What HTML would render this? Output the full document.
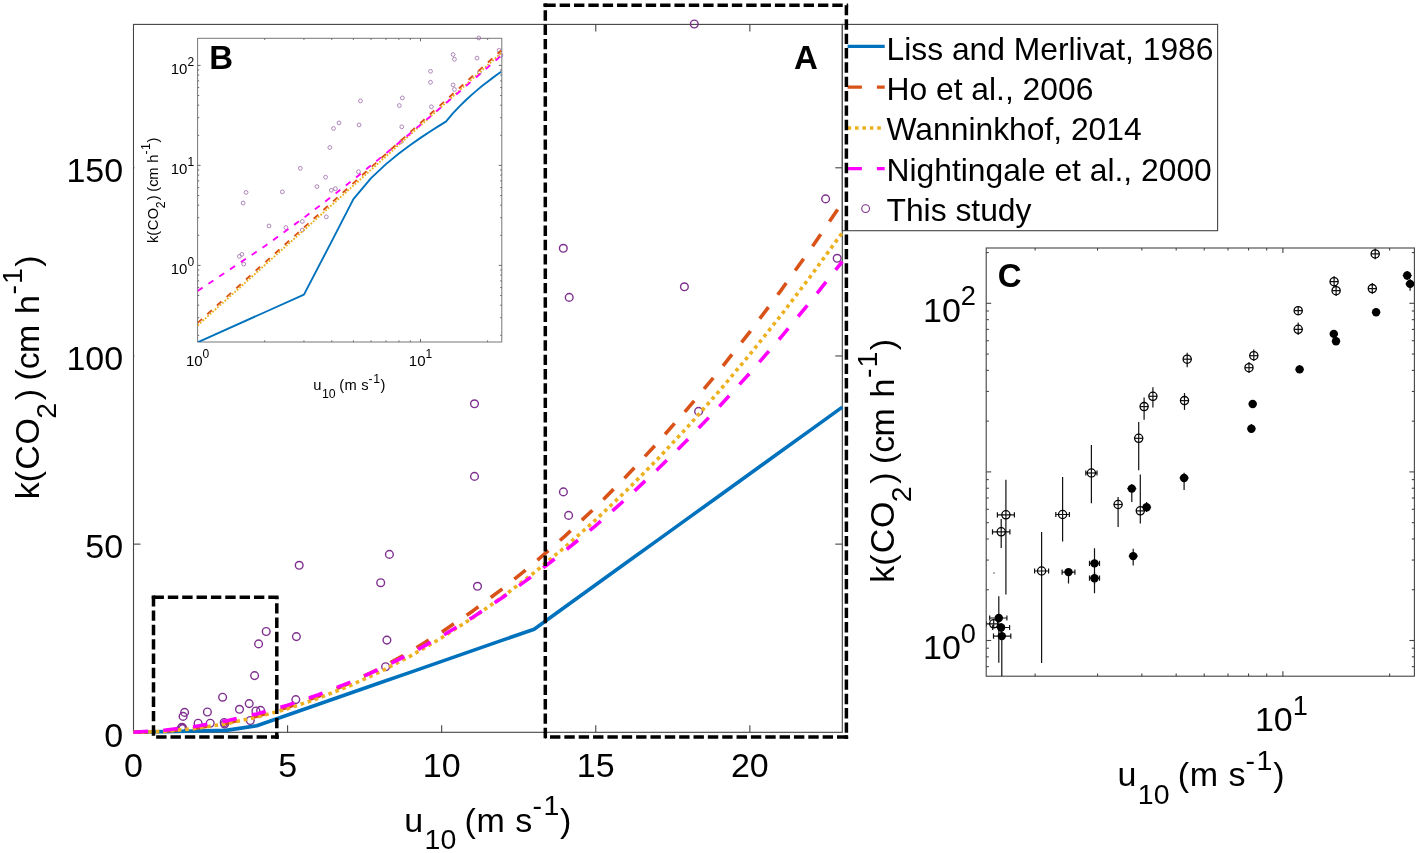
<!DOCTYPE html><html><head><meta charset="utf-8"><style>html,body{margin:0;padding:0;background:#fff;width:1417px;height:853px;overflow:hidden;position:relative}</style></head><body><svg width="1417" height="853" viewBox="0 0 1417 853" style="position:absolute;left:0;top:0;will-change:transform">
<g font-family='"Liberation Sans", sans-serif'>
<rect x="0" y="0" width="1417" height="853" fill="#fff"/>
<rect x="133.5" y="24.4" width="708.8" height="707.9" fill="none" stroke="#444" stroke-width="1.1"/>
<line x1="287.59" y1="732.3" x2="287.59" y2="725.3" stroke="#444" stroke-width="1.1" stroke-linecap="butt"/>
<line x1="287.59" y1="24.4" x2="287.59" y2="31.4" stroke="#444" stroke-width="1.1" stroke-linecap="butt"/>
<line x1="441.67" y1="732.3" x2="441.67" y2="725.3" stroke="#444" stroke-width="1.1" stroke-linecap="butt"/>
<line x1="441.67" y1="24.4" x2="441.67" y2="31.4" stroke="#444" stroke-width="1.1" stroke-linecap="butt"/>
<line x1="595.76" y1="732.3" x2="595.76" y2="725.3" stroke="#444" stroke-width="1.1" stroke-linecap="butt"/>
<line x1="595.76" y1="24.4" x2="595.76" y2="31.4" stroke="#444" stroke-width="1.1" stroke-linecap="butt"/>
<line x1="749.85" y1="732.3" x2="749.85" y2="725.3" stroke="#444" stroke-width="1.1" stroke-linecap="butt"/>
<line x1="749.85" y1="24.4" x2="749.85" y2="31.4" stroke="#444" stroke-width="1.1" stroke-linecap="butt"/>
<line x1="133.5" y1="544.13" x2="140.5" y2="544.13" stroke="#444" stroke-width="1.1" stroke-linecap="butt"/>
<line x1="842.3" y1="544.13" x2="835.3" y2="544.13" stroke="#444" stroke-width="1.1" stroke-linecap="butt"/>
<line x1="133.5" y1="355.96" x2="140.5" y2="355.96" stroke="#444" stroke-width="1.1" stroke-linecap="butt"/>
<line x1="842.3" y1="355.96" x2="835.3" y2="355.96" stroke="#444" stroke-width="1.1" stroke-linecap="butt"/>
<line x1="133.5" y1="167.79" x2="140.5" y2="167.79" stroke="#444" stroke-width="1.1" stroke-linecap="butt"/>
<line x1="842.3" y1="167.79" x2="835.3" y2="167.79" stroke="#444" stroke-width="1.1" stroke-linecap="butt"/>
<text x="133.5" y="777" font-size="34" text-anchor="middle" font-weight="normal" fill="#000" >0</text>
<text x="287.59" y="777" font-size="34" text-anchor="middle" font-weight="normal" fill="#000" >5</text>
<text x="441.67" y="777" font-size="34" text-anchor="middle" font-weight="normal" fill="#000" >10</text>
<text x="595.76" y="777" font-size="34" text-anchor="middle" font-weight="normal" fill="#000" >15</text>
<text x="749.85" y="777" font-size="34" text-anchor="middle" font-weight="normal" fill="#000" >20</text>
<text x="123.2" y="746.5" font-size="34" text-anchor="end" font-weight="normal" fill="#000" >0</text>
<text x="123.2" y="558.33" font-size="34" text-anchor="end" font-weight="normal" fill="#000" >50</text>
<text x="123.2" y="370.16" font-size="34" text-anchor="end" font-weight="normal" fill="#000" >100</text>
<text x="123.2" y="181.99" font-size="34" text-anchor="end" font-weight="normal" fill="#000" >150</text>
<circle cx="266.2" cy="631.5" r="3.85" fill="none" stroke="#7E2F8E" stroke-width="1.4"/>
<circle cx="258.6" cy="643.9" r="3.85" fill="none" stroke="#7E2F8E" stroke-width="1.4"/>
<circle cx="296.4" cy="636.6" r="3.85" fill="none" stroke="#7E2F8E" stroke-width="1.4"/>
<circle cx="254.6" cy="675.6" r="3.85" fill="none" stroke="#7E2F8E" stroke-width="1.4"/>
<circle cx="222.6" cy="697.2" r="3.85" fill="none" stroke="#7E2F8E" stroke-width="1.4"/>
<circle cx="249.2" cy="703.6" r="3.85" fill="none" stroke="#7E2F8E" stroke-width="1.4"/>
<circle cx="239.5" cy="709.3" r="3.85" fill="none" stroke="#7E2F8E" stroke-width="1.4"/>
<circle cx="207.4" cy="712" r="3.85" fill="none" stroke="#7E2F8E" stroke-width="1.4"/>
<circle cx="184.6" cy="712.4" r="3.85" fill="none" stroke="#7E2F8E" stroke-width="1.4"/>
<circle cx="183.1" cy="716.4" r="3.85" fill="none" stroke="#7E2F8E" stroke-width="1.4"/>
<circle cx="255.9" cy="711" r="3.85" fill="none" stroke="#7E2F8E" stroke-width="1.4"/>
<circle cx="260.6" cy="710.4" r="3.85" fill="none" stroke="#7E2F8E" stroke-width="1.4"/>
<circle cx="295.8" cy="699.6" r="3.85" fill="none" stroke="#7E2F8E" stroke-width="1.4"/>
<circle cx="198.1" cy="723.2" r="3.85" fill="none" stroke="#7E2F8E" stroke-width="1.4"/>
<circle cx="210.2" cy="723.2" r="3.85" fill="none" stroke="#7E2F8E" stroke-width="1.4"/>
<circle cx="224.2" cy="722.5" r="3.85" fill="none" stroke="#7E2F8E" stroke-width="1.4"/>
<circle cx="224.6" cy="724.1" r="3.85" fill="none" stroke="#7E2F8E" stroke-width="1.4"/>
<circle cx="250.3" cy="720.5" r="3.85" fill="none" stroke="#7E2F8E" stroke-width="1.4"/>
<circle cx="181.5" cy="727.9" r="3.85" fill="none" stroke="#7E2F8E" stroke-width="1.4"/>
<circle cx="182.8" cy="728.6" r="3.85" fill="none" stroke="#7E2F8E" stroke-width="1.4"/>
<circle cx="182.1" cy="727.2" r="3.85" fill="none" stroke="#7E2F8E" stroke-width="1.4"/>
<circle cx="299.2" cy="565.3" r="3.85" fill="none" stroke="#7E2F8E" stroke-width="1.4"/>
<circle cx="389.4" cy="554.4" r="3.85" fill="none" stroke="#7E2F8E" stroke-width="1.4"/>
<circle cx="380.7" cy="582.7" r="3.85" fill="none" stroke="#7E2F8E" stroke-width="1.4"/>
<circle cx="477.5" cy="586.3" r="3.85" fill="none" stroke="#7E2F8E" stroke-width="1.4"/>
<circle cx="386.9" cy="640.1" r="3.85" fill="none" stroke="#7E2F8E" stroke-width="1.4"/>
<circle cx="385.6" cy="666.7" r="3.85" fill="none" stroke="#7E2F8E" stroke-width="1.4"/>
<circle cx="474.5" cy="403.8" r="3.85" fill="none" stroke="#7E2F8E" stroke-width="1.4"/>
<circle cx="474.5" cy="476.4" r="3.85" fill="none" stroke="#7E2F8E" stroke-width="1.4"/>
<circle cx="563.3" cy="248.3" r="3.85" fill="none" stroke="#7E2F8E" stroke-width="1.4"/>
<circle cx="569.2" cy="297.4" r="3.85" fill="none" stroke="#7E2F8E" stroke-width="1.4"/>
<circle cx="684.4" cy="286.8" r="3.85" fill="none" stroke="#7E2F8E" stroke-width="1.4"/>
<circle cx="563.4" cy="491.9" r="3.85" fill="none" stroke="#7E2F8E" stroke-width="1.4"/>
<circle cx="568.6" cy="515.4" r="3.85" fill="none" stroke="#7E2F8E" stroke-width="1.4"/>
<circle cx="698.6" cy="411.4" r="3.85" fill="none" stroke="#7E2F8E" stroke-width="1.4"/>
<circle cx="694.3" cy="24" r="3.85" fill="none" stroke="#7E2F8E" stroke-width="1.4"/>
<circle cx="825.6" cy="198.9" r="3.85" fill="none" stroke="#7E2F8E" stroke-width="1.4"/>
<circle cx="837.2" cy="258.3" r="3.85" fill="none" stroke="#7E2F8E" stroke-width="1.4"/>
<path d="M133.5,732.3 L164.32,731.66 L195.13,731.02 L225.95,730.38 L256.77,725.71 L287.59,714.99 L318.4,704.26 L349.22,693.54 L380.04,682.81 L410.86,672.09 L441.67,661.36 L472.49,650.63 L503.31,639.91 L534.13,629.18 L564.94,606.98 L595.76,584.77 L626.58,562.57 L657.4,540.37 L688.21,518.16 L719.03,495.96 L749.85,473.75 L780.67,451.55 L811.48,429.34 L842.3,407.14" fill="none" stroke="#0072BD" stroke-width="3.6" stroke-linecap="butt" stroke-linejoin="round" />
<path d="M133.5,732.3 L164.32,731.3 L195.13,728.3 L225.95,723.29 L256.77,716.28 L287.59,707.27 L318.4,696.26 L349.22,683.25 L380.04,668.23 L410.86,651.21 L441.67,632.19 L472.49,611.17 L503.31,588.15 L534.13,563.12 L564.94,536.09 L595.76,507.06 L626.58,476.03 L657.4,442.99 L688.21,407.95 L719.03,370.91 L749.85,331.87 L780.67,290.83 L811.48,247.78 L842.3,202.73" fill="none" stroke="#D95319" stroke-width="3.6" stroke-linecap="butt" stroke-linejoin="round" stroke-dasharray="14.5 15.4" />
<path d="M133.5,732.3 L164.32,731.36 L195.13,728.52 L225.95,723.8 L256.77,717.19 L287.59,708.68 L318.4,698.29 L349.22,686.01 L380.04,671.84 L410.86,655.79 L441.67,637.84 L472.49,618 L503.31,596.27 L534.13,572.66 L564.94,547.15 L595.76,519.76 L626.58,490.48 L657.4,459.31 L688.21,426.24 L719.03,391.29 L749.85,354.45 L780.67,315.72 L811.48,275.1 L842.3,232.6" fill="none" stroke="#EDB120" stroke-width="3.6" stroke-linecap="butt" stroke-linejoin="round" stroke-dasharray="3.6 3.8" />
<path d="M133.5,732.3 L164.32,730.21 L195.13,726.45 L225.95,721.02 L256.77,713.92 L287.59,705.15 L318.4,694.7 L349.22,682.59 L380.04,668.8 L410.86,653.35 L441.67,636.22 L472.49,617.42 L503.31,596.95 L534.13,574.81 L564.94,551 L595.76,525.52 L626.58,498.37 L657.4,469.54 L688.21,439.05 L719.03,406.88 L749.85,373.04 L780.67,337.54 L811.48,300.36 L842.3,261.51" fill="none" stroke="#FF00FF" stroke-width="3.6" stroke-linecap="butt" stroke-linejoin="round" stroke-dasharray="14.5 15.4" />
<text font-size="34"><tspan x="404.2" y="831.6">u</tspan><tspan x="424.6" y="849.1" font-size="28.5">10</tspan><tspan x="464.6" y="831.6">(</tspan><tspan x="476.5" y="831.6">m</tspan><tspan x="515.35" y="831.6">s</tspan><tspan x="532.4" y="814.7" font-size="28.5">-</tspan><tspan x="543.4" y="814.7" font-size="28.5">1</tspan><tspan x="560" y="831.6">)</tspan></text>
<g transform="translate(38.5,497) rotate(-90)">
<text font-size="34"><tspan x="-2.29" y="0">k(</tspan><tspan x="27.2" y="0">C</tspan><tspan x="52.6" y="0">O</tspan><tspan x="78.3" y="17.4" font-size="28.5">2</tspan><tspan x="96.7" y="0">)</tspan><tspan x="116.4" y="0">(c</tspan><tspan x="143.9" y="0">m</tspan><tspan x="183.1" y="0">h</tspan><tspan x="202.5" y="-16.7" font-size="28.5">-</tspan><tspan x="212.9" y="-16.7" font-size="28.5">1</tspan><tspan x="230.2" y="0">)</tspan></text></g>
<rect x="842.3" y="24.4" width="375.3" height="206.3" fill="#fff" stroke="#444" stroke-width="1.1"/>
<line x1="847.6" y1="46.4" x2="884.7" y2="46.4" stroke="#0072BD" stroke-width="3.4" stroke-linecap="butt"/>
<line x1="847.6" y1="87.1" x2="884.7" y2="87.1" stroke="#D95319" stroke-width="3.4" stroke-linecap="butt" stroke-dasharray="14.3 15"/>
<line x1="847.6" y1="128" x2="884.7" y2="128" stroke="#EDB120" stroke-width="3.4" stroke-linecap="butt" stroke-dasharray="3.6 3.8"/>
<line x1="847.6" y1="168.6" x2="884.7" y2="168.6" stroke="#FF00FF" stroke-width="3.4" stroke-linecap="butt" stroke-dasharray="14.3 15"/>
<circle cx="865.6" cy="208.6" r="3.9" fill="none" stroke="#7E2F8E" stroke-width="1.1"/>
<text x="886.5" y="59.5" font-size="31.8" text-anchor="start" font-weight="normal" fill="#000" >Liss and Merlivat, 1986</text>
<text x="886.5" y="99.9" font-size="31.8" text-anchor="start" font-weight="normal" fill="#000" >Ho et al., 2006</text>
<text x="886.5" y="140.2" font-size="31.8" text-anchor="start" font-weight="normal" fill="#000" >Wanninkhof, 2014</text>
<text x="886.5" y="180.6" font-size="31.8" text-anchor="start" font-weight="normal" fill="#000" >Nightingale et al., 2000</text>
<text x="886.5" y="220.9" font-size="31.8" text-anchor="start" font-weight="normal" fill="#000" >This study</text>
<text x="793.98" y="69.2" font-size="33" text-anchor="start" font-weight="bold" fill="#000" >A</text>
<rect x="134.4" y="25.0" width="386" height="374" fill="#fff"/>
<rect x="197.6" y="38.3" width="304.2" height="303.7" fill="#fff" stroke="#777" stroke-width="1"/>
<line x1="264.7" y1="342" x2="264.7" y2="340.4" stroke="#666" stroke-width="1" stroke-linecap="butt"/>
<line x1="264.7" y1="38.3" x2="264.7" y2="39.9" stroke="#666" stroke-width="1" stroke-linecap="butt"/>
<line x1="303.95" y1="342" x2="303.95" y2="340.4" stroke="#666" stroke-width="1" stroke-linecap="butt"/>
<line x1="303.95" y1="38.3" x2="303.95" y2="39.9" stroke="#666" stroke-width="1" stroke-linecap="butt"/>
<line x1="331.8" y1="342" x2="331.8" y2="340.4" stroke="#666" stroke-width="1" stroke-linecap="butt"/>
<line x1="331.8" y1="38.3" x2="331.8" y2="39.9" stroke="#666" stroke-width="1" stroke-linecap="butt"/>
<line x1="353.4" y1="342" x2="353.4" y2="340.4" stroke="#666" stroke-width="1" stroke-linecap="butt"/>
<line x1="353.4" y1="38.3" x2="353.4" y2="39.9" stroke="#666" stroke-width="1" stroke-linecap="butt"/>
<line x1="371.05" y1="342" x2="371.05" y2="340.4" stroke="#666" stroke-width="1" stroke-linecap="butt"/>
<line x1="371.05" y1="38.3" x2="371.05" y2="39.9" stroke="#666" stroke-width="1" stroke-linecap="butt"/>
<line x1="385.97" y1="342" x2="385.97" y2="340.4" stroke="#666" stroke-width="1" stroke-linecap="butt"/>
<line x1="385.97" y1="38.3" x2="385.97" y2="39.9" stroke="#666" stroke-width="1" stroke-linecap="butt"/>
<line x1="398.9" y1="342" x2="398.9" y2="340.4" stroke="#666" stroke-width="1" stroke-linecap="butt"/>
<line x1="398.9" y1="38.3" x2="398.9" y2="39.9" stroke="#666" stroke-width="1" stroke-linecap="butt"/>
<line x1="410.3" y1="342" x2="410.3" y2="340.4" stroke="#666" stroke-width="1" stroke-linecap="butt"/>
<line x1="410.3" y1="38.3" x2="410.3" y2="39.9" stroke="#666" stroke-width="1" stroke-linecap="butt"/>
<line x1="420.5" y1="342" x2="420.5" y2="339" stroke="#666" stroke-width="1" stroke-linecap="butt"/>
<line x1="420.5" y1="38.3" x2="420.5" y2="41.3" stroke="#666" stroke-width="1" stroke-linecap="butt"/>
<line x1="487.6" y1="342" x2="487.6" y2="340.4" stroke="#666" stroke-width="1" stroke-linecap="butt"/>
<line x1="487.6" y1="38.3" x2="487.6" y2="39.9" stroke="#666" stroke-width="1" stroke-linecap="butt"/>
<line x1="197.6" y1="335.3" x2="199.2" y2="335.3" stroke="#666" stroke-width="1" stroke-linecap="butt"/>
<line x1="501.8" y1="335.3" x2="500.2" y2="335.3" stroke="#666" stroke-width="1" stroke-linecap="butt"/>
<line x1="197.6" y1="317.69" x2="199.2" y2="317.69" stroke="#666" stroke-width="1" stroke-linecap="butt"/>
<line x1="501.8" y1="317.69" x2="500.2" y2="317.69" stroke="#666" stroke-width="1" stroke-linecap="butt"/>
<line x1="197.6" y1="305.19" x2="199.2" y2="305.19" stroke="#666" stroke-width="1" stroke-linecap="butt"/>
<line x1="501.8" y1="305.19" x2="500.2" y2="305.19" stroke="#666" stroke-width="1" stroke-linecap="butt"/>
<line x1="197.6" y1="295.5" x2="199.2" y2="295.5" stroke="#666" stroke-width="1" stroke-linecap="butt"/>
<line x1="501.8" y1="295.5" x2="500.2" y2="295.5" stroke="#666" stroke-width="1" stroke-linecap="butt"/>
<line x1="197.6" y1="287.58" x2="199.2" y2="287.58" stroke="#666" stroke-width="1" stroke-linecap="butt"/>
<line x1="501.8" y1="287.58" x2="500.2" y2="287.58" stroke="#666" stroke-width="1" stroke-linecap="butt"/>
<line x1="197.6" y1="280.89" x2="199.2" y2="280.89" stroke="#666" stroke-width="1" stroke-linecap="butt"/>
<line x1="501.8" y1="280.89" x2="500.2" y2="280.89" stroke="#666" stroke-width="1" stroke-linecap="butt"/>
<line x1="197.6" y1="275.09" x2="199.2" y2="275.09" stroke="#666" stroke-width="1" stroke-linecap="butt"/>
<line x1="501.8" y1="275.09" x2="500.2" y2="275.09" stroke="#666" stroke-width="1" stroke-linecap="butt"/>
<line x1="197.6" y1="269.98" x2="199.2" y2="269.98" stroke="#666" stroke-width="1" stroke-linecap="butt"/>
<line x1="501.8" y1="269.98" x2="500.2" y2="269.98" stroke="#666" stroke-width="1" stroke-linecap="butt"/>
<line x1="197.6" y1="265.4" x2="200.6" y2="265.4" stroke="#666" stroke-width="1" stroke-linecap="butt"/>
<line x1="501.8" y1="265.4" x2="498.8" y2="265.4" stroke="#666" stroke-width="1" stroke-linecap="butt"/>
<line x1="197.6" y1="235.3" x2="199.2" y2="235.3" stroke="#666" stroke-width="1" stroke-linecap="butt"/>
<line x1="501.8" y1="235.3" x2="500.2" y2="235.3" stroke="#666" stroke-width="1" stroke-linecap="butt"/>
<line x1="197.6" y1="217.69" x2="199.2" y2="217.69" stroke="#666" stroke-width="1" stroke-linecap="butt"/>
<line x1="501.8" y1="217.69" x2="500.2" y2="217.69" stroke="#666" stroke-width="1" stroke-linecap="butt"/>
<line x1="197.6" y1="205.19" x2="199.2" y2="205.19" stroke="#666" stroke-width="1" stroke-linecap="butt"/>
<line x1="501.8" y1="205.19" x2="500.2" y2="205.19" stroke="#666" stroke-width="1" stroke-linecap="butt"/>
<line x1="197.6" y1="195.5" x2="199.2" y2="195.5" stroke="#666" stroke-width="1" stroke-linecap="butt"/>
<line x1="501.8" y1="195.5" x2="500.2" y2="195.5" stroke="#666" stroke-width="1" stroke-linecap="butt"/>
<line x1="197.6" y1="187.58" x2="199.2" y2="187.58" stroke="#666" stroke-width="1" stroke-linecap="butt"/>
<line x1="501.8" y1="187.58" x2="500.2" y2="187.58" stroke="#666" stroke-width="1" stroke-linecap="butt"/>
<line x1="197.6" y1="180.89" x2="199.2" y2="180.89" stroke="#666" stroke-width="1" stroke-linecap="butt"/>
<line x1="501.8" y1="180.89" x2="500.2" y2="180.89" stroke="#666" stroke-width="1" stroke-linecap="butt"/>
<line x1="197.6" y1="175.09" x2="199.2" y2="175.09" stroke="#666" stroke-width="1" stroke-linecap="butt"/>
<line x1="501.8" y1="175.09" x2="500.2" y2="175.09" stroke="#666" stroke-width="1" stroke-linecap="butt"/>
<line x1="197.6" y1="169.98" x2="199.2" y2="169.98" stroke="#666" stroke-width="1" stroke-linecap="butt"/>
<line x1="501.8" y1="169.98" x2="500.2" y2="169.98" stroke="#666" stroke-width="1" stroke-linecap="butt"/>
<line x1="197.6" y1="165.4" x2="200.6" y2="165.4" stroke="#666" stroke-width="1" stroke-linecap="butt"/>
<line x1="501.8" y1="165.4" x2="498.8" y2="165.4" stroke="#666" stroke-width="1" stroke-linecap="butt"/>
<line x1="197.6" y1="135.3" x2="199.2" y2="135.3" stroke="#666" stroke-width="1" stroke-linecap="butt"/>
<line x1="501.8" y1="135.3" x2="500.2" y2="135.3" stroke="#666" stroke-width="1" stroke-linecap="butt"/>
<line x1="197.6" y1="117.69" x2="199.2" y2="117.69" stroke="#666" stroke-width="1" stroke-linecap="butt"/>
<line x1="501.8" y1="117.69" x2="500.2" y2="117.69" stroke="#666" stroke-width="1" stroke-linecap="butt"/>
<line x1="197.6" y1="105.19" x2="199.2" y2="105.19" stroke="#666" stroke-width="1" stroke-linecap="butt"/>
<line x1="501.8" y1="105.19" x2="500.2" y2="105.19" stroke="#666" stroke-width="1" stroke-linecap="butt"/>
<line x1="197.6" y1="95.5" x2="199.2" y2="95.5" stroke="#666" stroke-width="1" stroke-linecap="butt"/>
<line x1="501.8" y1="95.5" x2="500.2" y2="95.5" stroke="#666" stroke-width="1" stroke-linecap="butt"/>
<line x1="197.6" y1="87.58" x2="199.2" y2="87.58" stroke="#666" stroke-width="1" stroke-linecap="butt"/>
<line x1="501.8" y1="87.58" x2="500.2" y2="87.58" stroke="#666" stroke-width="1" stroke-linecap="butt"/>
<line x1="197.6" y1="80.89" x2="199.2" y2="80.89" stroke="#666" stroke-width="1" stroke-linecap="butt"/>
<line x1="501.8" y1="80.89" x2="500.2" y2="80.89" stroke="#666" stroke-width="1" stroke-linecap="butt"/>
<line x1="197.6" y1="75.09" x2="199.2" y2="75.09" stroke="#666" stroke-width="1" stroke-linecap="butt"/>
<line x1="501.8" y1="75.09" x2="500.2" y2="75.09" stroke="#666" stroke-width="1" stroke-linecap="butt"/>
<line x1="197.6" y1="69.98" x2="199.2" y2="69.98" stroke="#666" stroke-width="1" stroke-linecap="butt"/>
<line x1="501.8" y1="69.98" x2="500.2" y2="69.98" stroke="#666" stroke-width="1" stroke-linecap="butt"/>
<line x1="197.6" y1="65.4" x2="200.6" y2="65.4" stroke="#666" stroke-width="1" stroke-linecap="butt"/>
<line x1="501.8" y1="65.4" x2="498.8" y2="65.4" stroke="#666" stroke-width="1" stroke-linecap="butt"/>
<text x="185.92" y="366.4" font-size="15" text-anchor="start" font-weight="normal" fill="#000" >10</text>
<text x="202.61" y="358.4" font-size="12" text-anchor="start" font-weight="normal" fill="#000" >0</text>
<text x="408.82" y="366.4" font-size="15" text-anchor="start" font-weight="normal" fill="#000" >10</text>
<text x="425.51" y="358.4" font-size="12" text-anchor="start" font-weight="normal" fill="#000" >1</text>
<text x="170.74" y="273.5" font-size="15" text-anchor="start" font-weight="normal" fill="#000" >10</text>
<text x="187.43" y="266.2" font-size="12" text-anchor="start" font-weight="normal" fill="#000" >0</text>
<text x="170.74" y="173.5" font-size="15" text-anchor="start" font-weight="normal" fill="#000" >10</text>
<text x="187.43" y="166.2" font-size="12" text-anchor="start" font-weight="normal" fill="#000" >1</text>
<text x="170.74" y="73.5" font-size="15" text-anchor="start" font-weight="normal" fill="#000" >10</text>
<text x="187.43" y="66.2" font-size="12" text-anchor="start" font-weight="normal" fill="#000" >2</text>
<circle cx="239.4" cy="256.41" r="1.9" fill="none" stroke="#9b6aa8" stroke-width="0.8"/>
<circle cx="241.88" cy="254.34" r="1.9" fill="none" stroke="#9b6aa8" stroke-width="0.8"/>
<circle cx="243.7" cy="264.12" r="1.9" fill="none" stroke="#9b6aa8" stroke-width="0.8"/>
<circle cx="243.1" cy="203.08" r="1.9" fill="none" stroke="#9b6aa8" stroke-width="0.8"/>
<circle cx="246.08" cy="192.4" r="1.9" fill="none" stroke="#9b6aa8" stroke-width="0.8"/>
<circle cx="268.96" cy="225.95" r="1.9" fill="none" stroke="#9b6aa8" stroke-width="0.8"/>
<circle cx="282.35" cy="191.84" r="1.9" fill="none" stroke="#9b6aa8" stroke-width="0.8"/>
<circle cx="285.91" cy="227.56" r="1.9" fill="none" stroke="#9b6aa8" stroke-width="0.8"/>
<circle cx="300.33" cy="168.32" r="1.9" fill="none" stroke="#9b6aa8" stroke-width="0.8"/>
<circle cx="302.32" cy="221.47" r="1.9" fill="none" stroke="#9b6aa8" stroke-width="0.8"/>
<circle cx="302.32" cy="229.99" r="1.9" fill="none" stroke="#9b6aa8" stroke-width="0.8"/>
<circle cx="316.92" cy="186.58" r="1.9" fill="none" stroke="#9b6aa8" stroke-width="0.8"/>
<circle cx="325.55" cy="177.2" r="1.9" fill="none" stroke="#9b6aa8" stroke-width="0.8"/>
<circle cx="326.32" cy="216.83" r="1.9" fill="none" stroke="#9b6aa8" stroke-width="0.8"/>
<circle cx="329.84" cy="147.5" r="1.9" fill="none" stroke="#9b6aa8" stroke-width="0.8"/>
<circle cx="331.31" cy="190.27" r="1.9" fill="none" stroke="#9b6aa8" stroke-width="0.8"/>
<circle cx="335.36" cy="188.68" r="1.9" fill="none" stroke="#9b6aa8" stroke-width="0.8"/>
<circle cx="333.48" cy="128.48" r="1.9" fill="none" stroke="#9b6aa8" stroke-width="0.8"/>
<circle cx="339.02" cy="122.91" r="1.9" fill="none" stroke="#9b6aa8" stroke-width="0.8"/>
<circle cx="358.49" cy="171.7" r="1.9" fill="none" stroke="#9b6aa8" stroke-width="0.8"/>
<circle cx="359.04" cy="124.92" r="1.9" fill="none" stroke="#9b6aa8" stroke-width="0.8"/>
<circle cx="360.49" cy="100.86" r="1.9" fill="none" stroke="#9b6aa8" stroke-width="0.8"/>
<circle cx="399.38" cy="105.52" r="1.9" fill="none" stroke="#9b6aa8" stroke-width="0.8"/>
<circle cx="402.35" cy="97.91" r="1.9" fill="none" stroke="#9b6aa8" stroke-width="0.8"/>
<circle cx="401.76" cy="126.84" r="1.9" fill="none" stroke="#9b6aa8" stroke-width="0.8"/>
<circle cx="401.29" cy="141.6" r="1.9" fill="none" stroke="#9b6aa8" stroke-width="0.8"/>
<circle cx="430.52" cy="71.3" r="1.9" fill="none" stroke="#9b6aa8" stroke-width="0.8"/>
<circle cx="430.52" cy="82.28" r="1.9" fill="none" stroke="#9b6aa8" stroke-width="0.8"/>
<circle cx="431.38" cy="106.74" r="1.9" fill="none" stroke="#9b6aa8" stroke-width="0.8"/>
<circle cx="453.07" cy="54.51" r="1.9" fill="none" stroke="#9b6aa8" stroke-width="0.8"/>
<circle cx="454.45" cy="59.25" r="1.9" fill="none" stroke="#9b6aa8" stroke-width="0.8"/>
<circle cx="453.07" cy="84.92" r="1.9" fill="none" stroke="#9b6aa8" stroke-width="0.8"/>
<circle cx="454.45" cy="89.43" r="1.9" fill="none" stroke="#9b6aa8" stroke-width="0.8"/>
<circle cx="477.02" cy="58.1" r="1.9" fill="none" stroke="#9b6aa8" stroke-width="0.8"/>
<circle cx="478.79" cy="37.96" r="1.9" fill="none" stroke="#9b6aa8" stroke-width="0.8"/>
<circle cx="479.42" cy="72.41" r="1.9" fill="none" stroke="#9b6aa8" stroke-width="0.8"/>
<circle cx="499.22" cy="50.32" r="1.9" fill="none" stroke="#9b6aa8" stroke-width="0.8"/>
<circle cx="500.92" cy="55.43" r="1.9" fill="none" stroke="#9b6aa8" stroke-width="0.8"/>
<clipPath id="cb"><rect x="197.6" y="38.3" width="304.2" height="303.7"/></clipPath>
<g clip-path="url(#cb)">
<path d="M197.6,342.36 L264.7,312.25 L303.95,294.64 L331.8,241.1 L353.4,199.12 L371.05,178.18 L385.97,164.12 L398.9,153.51 L410.3,144.99 L420.5,137.87 L429.73,131.75 L438.15,126.39 L445.9,121.62 L453.07,113.16 L459.75,106.07 L466,99.98 L471.87,94.64 L477.4,89.89 L482.63,85.6 L487.6,81.7 L492.32,78.13 L496.83,74.82 L501.13,71.75" fill="none" stroke="#0072BD" stroke-width="1.9" stroke-linecap="butt" stroke-linejoin="round" />
<path d="M197.6,322.91 L264.7,262.71 L303.95,227.49 L331.8,202.5 L353.4,183.12 L371.05,167.28 L385.97,153.89 L398.9,142.29 L410.3,132.06 L420.5,122.91 L429.73,114.63 L438.15,107.08 L445.9,100.12 L453.07,93.69 L459.75,87.69 L466,82.09 L471.87,76.82 L477.4,71.86 L482.63,67.16 L487.6,62.71 L492.32,58.47 L496.83,54.43 L501.13,50.57" fill="none" stroke="#D95319" stroke-width="1.9" stroke-linecap="butt" stroke-linejoin="round" stroke-dasharray="6 7" />
<path d="M197.6,325.43 L264.7,265.23 L303.95,230.01 L331.8,205.02 L353.4,185.64 L371.05,169.8 L385.97,156.41 L398.9,144.81 L410.3,134.58 L420.5,125.43 L429.73,117.15 L438.15,109.6 L445.9,102.64 L453.07,96.21 L459.75,90.21 L466,84.61 L471.87,79.34 L477.4,74.38 L482.63,69.68 L487.6,65.23 L492.32,60.99 L496.83,56.95 L501.13,53.09" fill="none" stroke="#EDB120" stroke-width="1.9" stroke-linecap="butt" stroke-linejoin="round" stroke-dasharray="1.8 1.5" />
<path d="M197.6,290.97 L264.7,246.25 L303.95,217.73 L331.8,196.52 L353.4,179.58 L371.05,165.44 L385.97,153.31 L398.9,142.68 L410.3,133.22 L420.5,124.69 L429.73,116.93 L438.15,109.81 L445.9,103.23 L453.07,97.12 L459.75,91.41 L466,86.05 L471.87,81 L477.4,76.23 L482.63,71.71 L487.6,67.42 L492.32,63.32 L496.83,59.42 L501.13,55.68" fill="none" stroke="#FF00FF" stroke-width="1.9" stroke-linecap="butt" stroke-linejoin="round" stroke-dasharray="6 7" />
</g>
<text x="209.29" y="69" font-size="33" text-anchor="start" font-weight="bold" fill="#000" >B</text>
<text font-size="14.7"><tspan x="313.15" y="390.24">u</tspan><tspan x="321.97" y="397.81" font-size="12.32">10</tspan><tspan x="339.26" y="390.24">(</tspan><tspan x="344.41" y="390.24">m</tspan><tspan x="361.2" y="390.24">s</tspan><tspan x="368.58" y="382.94" font-size="12.32">-</tspan><tspan x="373.33" y="382.94" font-size="12.32">1</tspan><tspan x="380.51" y="390.24">)</tspan></text>
<g transform="translate(157.6,242) rotate(-90)">
<text font-size="14.7"><tspan x="-0.99" y="0">k(</tspan><tspan x="11.76" y="0">C</tspan><tspan x="22.74" y="0">O</tspan><tspan x="33.85" y="7.52" font-size="12.32">2</tspan><tspan x="41.81" y="0">)</tspan><tspan x="50.33" y="0">(c</tspan><tspan x="62.22" y="0">m</tspan><tspan x="79.16" y="0">h</tspan><tspan x="87.55" y="-7.22" font-size="12.32">-</tspan><tspan x="92.05" y="-7.22" font-size="12.32">1</tspan><tspan x="99.53" y="0">)</tspan></text></g>
<rect x="986.2" y="248.0" width="428.2" height="428.2" fill="none" stroke="#444" stroke-width="1.1"/>
<line x1="1035.12" y1="676.2" x2="1035.12" y2="673.6" stroke="#444" stroke-width="1.1" stroke-linecap="butt"/>
<line x1="1035.12" y1="248" x2="1035.12" y2="250.6" stroke="#444" stroke-width="1.1" stroke-linecap="butt"/>
<line x1="1097.54" y1="676.2" x2="1097.54" y2="673.6" stroke="#444" stroke-width="1.1" stroke-linecap="butt"/>
<line x1="1097.54" y1="248" x2="1097.54" y2="250.6" stroke="#444" stroke-width="1.1" stroke-linecap="butt"/>
<line x1="1141.83" y1="676.2" x2="1141.83" y2="673.6" stroke="#444" stroke-width="1.1" stroke-linecap="butt"/>
<line x1="1141.83" y1="248" x2="1141.83" y2="250.6" stroke="#444" stroke-width="1.1" stroke-linecap="butt"/>
<line x1="1176.18" y1="676.2" x2="1176.18" y2="673.6" stroke="#444" stroke-width="1.1" stroke-linecap="butt"/>
<line x1="1176.18" y1="248" x2="1176.18" y2="250.6" stroke="#444" stroke-width="1.1" stroke-linecap="butt"/>
<line x1="1204.25" y1="676.2" x2="1204.25" y2="673.6" stroke="#444" stroke-width="1.1" stroke-linecap="butt"/>
<line x1="1204.25" y1="248" x2="1204.25" y2="250.6" stroke="#444" stroke-width="1.1" stroke-linecap="butt"/>
<line x1="1227.99" y1="676.2" x2="1227.99" y2="673.6" stroke="#444" stroke-width="1.1" stroke-linecap="butt"/>
<line x1="1227.99" y1="248" x2="1227.99" y2="250.6" stroke="#444" stroke-width="1.1" stroke-linecap="butt"/>
<line x1="1248.55" y1="676.2" x2="1248.55" y2="673.6" stroke="#444" stroke-width="1.1" stroke-linecap="butt"/>
<line x1="1248.55" y1="248" x2="1248.55" y2="250.6" stroke="#444" stroke-width="1.1" stroke-linecap="butt"/>
<line x1="1266.68" y1="676.2" x2="1266.68" y2="673.6" stroke="#444" stroke-width="1.1" stroke-linecap="butt"/>
<line x1="1266.68" y1="248" x2="1266.68" y2="250.6" stroke="#444" stroke-width="1.1" stroke-linecap="butt"/>
<line x1="1282.9" y1="676.2" x2="1282.9" y2="671.2" stroke="#444" stroke-width="1.1" stroke-linecap="butt"/>
<line x1="1282.9" y1="248" x2="1282.9" y2="253" stroke="#444" stroke-width="1.1" stroke-linecap="butt"/>
<line x1="1389.62" y1="676.2" x2="1389.62" y2="673.6" stroke="#444" stroke-width="1.1" stroke-linecap="butt"/>
<line x1="1389.62" y1="248" x2="1389.62" y2="250.6" stroke="#444" stroke-width="1.1" stroke-linecap="butt"/>
<line x1="986.2" y1="666.62" x2="988.8" y2="666.62" stroke="#444" stroke-width="1.1" stroke-linecap="butt"/>
<line x1="1414.4" y1="666.62" x2="1411.8" y2="666.62" stroke="#444" stroke-width="1.1" stroke-linecap="butt"/>
<line x1="986.2" y1="656.84" x2="988.8" y2="656.84" stroke="#444" stroke-width="1.1" stroke-linecap="butt"/>
<line x1="1414.4" y1="656.84" x2="1411.8" y2="656.84" stroke="#444" stroke-width="1.1" stroke-linecap="butt"/>
<line x1="986.2" y1="648.21" x2="988.8" y2="648.21" stroke="#444" stroke-width="1.1" stroke-linecap="butt"/>
<line x1="1414.4" y1="648.21" x2="1411.8" y2="648.21" stroke="#444" stroke-width="1.1" stroke-linecap="butt"/>
<line x1="986.2" y1="640.5" x2="991.2" y2="640.5" stroke="#444" stroke-width="1.1" stroke-linecap="butt"/>
<line x1="1414.4" y1="640.5" x2="1409.4" y2="640.5" stroke="#444" stroke-width="1.1" stroke-linecap="butt"/>
<line x1="986.2" y1="589.75" x2="988.8" y2="589.75" stroke="#444" stroke-width="1.1" stroke-linecap="butt"/>
<line x1="1414.4" y1="589.75" x2="1411.8" y2="589.75" stroke="#444" stroke-width="1.1" stroke-linecap="butt"/>
<line x1="986.2" y1="560.06" x2="988.8" y2="560.06" stroke="#444" stroke-width="1.1" stroke-linecap="butt"/>
<line x1="1414.4" y1="560.06" x2="1411.8" y2="560.06" stroke="#444" stroke-width="1.1" stroke-linecap="butt"/>
<line x1="986.2" y1="538.99" x2="988.8" y2="538.99" stroke="#444" stroke-width="1.1" stroke-linecap="butt"/>
<line x1="1414.4" y1="538.99" x2="1411.8" y2="538.99" stroke="#444" stroke-width="1.1" stroke-linecap="butt"/>
<line x1="986.2" y1="522.65" x2="988.8" y2="522.65" stroke="#444" stroke-width="1.1" stroke-linecap="butt"/>
<line x1="1414.4" y1="522.65" x2="1411.8" y2="522.65" stroke="#444" stroke-width="1.1" stroke-linecap="butt"/>
<line x1="986.2" y1="509.3" x2="988.8" y2="509.3" stroke="#444" stroke-width="1.1" stroke-linecap="butt"/>
<line x1="1414.4" y1="509.3" x2="1411.8" y2="509.3" stroke="#444" stroke-width="1.1" stroke-linecap="butt"/>
<line x1="986.2" y1="498.02" x2="988.8" y2="498.02" stroke="#444" stroke-width="1.1" stroke-linecap="butt"/>
<line x1="1414.4" y1="498.02" x2="1411.8" y2="498.02" stroke="#444" stroke-width="1.1" stroke-linecap="butt"/>
<line x1="986.2" y1="488.24" x2="988.8" y2="488.24" stroke="#444" stroke-width="1.1" stroke-linecap="butt"/>
<line x1="1414.4" y1="488.24" x2="1411.8" y2="488.24" stroke="#444" stroke-width="1.1" stroke-linecap="butt"/>
<line x1="986.2" y1="479.61" x2="988.8" y2="479.61" stroke="#444" stroke-width="1.1" stroke-linecap="butt"/>
<line x1="1414.4" y1="479.61" x2="1411.8" y2="479.61" stroke="#444" stroke-width="1.1" stroke-linecap="butt"/>
<line x1="986.2" y1="471.9" x2="991.2" y2="471.9" stroke="#444" stroke-width="1.1" stroke-linecap="butt"/>
<line x1="1414.4" y1="471.9" x2="1409.4" y2="471.9" stroke="#444" stroke-width="1.1" stroke-linecap="butt"/>
<line x1="986.2" y1="421.15" x2="988.8" y2="421.15" stroke="#444" stroke-width="1.1" stroke-linecap="butt"/>
<line x1="1414.4" y1="421.15" x2="1411.8" y2="421.15" stroke="#444" stroke-width="1.1" stroke-linecap="butt"/>
<line x1="986.2" y1="391.46" x2="988.8" y2="391.46" stroke="#444" stroke-width="1.1" stroke-linecap="butt"/>
<line x1="1414.4" y1="391.46" x2="1411.8" y2="391.46" stroke="#444" stroke-width="1.1" stroke-linecap="butt"/>
<line x1="986.2" y1="370.39" x2="988.8" y2="370.39" stroke="#444" stroke-width="1.1" stroke-linecap="butt"/>
<line x1="1414.4" y1="370.39" x2="1411.8" y2="370.39" stroke="#444" stroke-width="1.1" stroke-linecap="butt"/>
<line x1="986.2" y1="354.05" x2="988.8" y2="354.05" stroke="#444" stroke-width="1.1" stroke-linecap="butt"/>
<line x1="1414.4" y1="354.05" x2="1411.8" y2="354.05" stroke="#444" stroke-width="1.1" stroke-linecap="butt"/>
<line x1="986.2" y1="340.7" x2="988.8" y2="340.7" stroke="#444" stroke-width="1.1" stroke-linecap="butt"/>
<line x1="1414.4" y1="340.7" x2="1411.8" y2="340.7" stroke="#444" stroke-width="1.1" stroke-linecap="butt"/>
<line x1="986.2" y1="329.42" x2="988.8" y2="329.42" stroke="#444" stroke-width="1.1" stroke-linecap="butt"/>
<line x1="1414.4" y1="329.42" x2="1411.8" y2="329.42" stroke="#444" stroke-width="1.1" stroke-linecap="butt"/>
<line x1="986.2" y1="319.64" x2="988.8" y2="319.64" stroke="#444" stroke-width="1.1" stroke-linecap="butt"/>
<line x1="1414.4" y1="319.64" x2="1411.8" y2="319.64" stroke="#444" stroke-width="1.1" stroke-linecap="butt"/>
<line x1="986.2" y1="311.01" x2="988.8" y2="311.01" stroke="#444" stroke-width="1.1" stroke-linecap="butt"/>
<line x1="1414.4" y1="311.01" x2="1411.8" y2="311.01" stroke="#444" stroke-width="1.1" stroke-linecap="butt"/>
<line x1="986.2" y1="303.3" x2="991.2" y2="303.3" stroke="#444" stroke-width="1.1" stroke-linecap="butt"/>
<line x1="1414.4" y1="303.3" x2="1409.4" y2="303.3" stroke="#444" stroke-width="1.1" stroke-linecap="butt"/>
<line x1="986.2" y1="252.55" x2="988.8" y2="252.55" stroke="#444" stroke-width="1.1" stroke-linecap="butt"/>
<line x1="1414.4" y1="252.55" x2="1411.8" y2="252.55" stroke="#444" stroke-width="1.1" stroke-linecap="butt"/>
<text x="923.05" y="659.4" font-size="34" text-anchor="start" font-weight="normal" fill="#000" >10</text>
<text x="960.87" y="643" font-size="27.2" text-anchor="start" font-weight="normal" fill="#000" >0</text>
<text x="923.05" y="321.6" font-size="34" text-anchor="start" font-weight="normal" fill="#000" >10</text>
<text x="960.87" y="305.1" font-size="27.2" text-anchor="start" font-weight="normal" fill="#000" >2</text>
<text x="1254.93" y="731" font-size="34" text-anchor="start" font-weight="normal" fill="#000" >10</text>
<text x="1292.75" y="715" font-size="27.2" text-anchor="start" font-weight="normal" fill="#000" >1</text>
<text x="997.85" y="287.2" font-size="33" text-anchor="start" font-weight="bold" fill="#000" >C</text>
<text font-size="34"><tspan x="1117.4" y="786.4">u</tspan><tspan x="1137.8" y="803.9" font-size="28.5">10</tspan><tspan x="1177.8" y="786.4">(</tspan><tspan x="1189.7" y="786.4">m</tspan><tspan x="1228.55" y="786.4">s</tspan><tspan x="1245.6" y="769.5" font-size="28.5">-</tspan><tspan x="1256.6" y="769.5" font-size="28.5">1</tspan><tspan x="1273.2" y="786.4">)</tspan></text>
<g transform="translate(893.8,580.5) rotate(-90)">
<text font-size="34"><tspan x="-2.29" y="0">k(</tspan><tspan x="27.2" y="0">C</tspan><tspan x="52.6" y="0">O</tspan><tspan x="78.3" y="17.4" font-size="28.5">2</tspan><tspan x="96.7" y="0">)</tspan><tspan x="116.4" y="0">(c</tspan><tspan x="143.9" y="0">m</tspan><tspan x="183.1" y="0">h</tspan><tspan x="202.5" y="-16.7" font-size="28.5">-</tspan><tspan x="212.9" y="-16.7" font-size="28.5">1</tspan><tspan x="230.2" y="0">)</tspan></text></g>
<clipPath id="cc"><rect x="986.2" y="248.0" width="428.2" height="428.2"/></clipPath>
<g clip-path="url(#cc)">
<line x1="1005.9" y1="479.7" x2="1005.9" y2="594.5" stroke="#111" stroke-width="1.2" stroke-linecap="butt"/>
<line x1="997.4" y1="514.8" x2="1014.4" y2="514.8" stroke="#111" stroke-width="1.2" stroke-linecap="butt"/>
<line x1="997.4" y1="512.2" x2="997.4" y2="517.4" stroke="#111" stroke-width="1.2" stroke-linecap="butt"/>
<line x1="1014.4" y1="512.2" x2="1014.4" y2="517.4" stroke="#111" stroke-width="1.2" stroke-linecap="butt"/>
<line x1="1001.2" y1="519" x2="1001.2" y2="548.1" stroke="#111" stroke-width="1.2" stroke-linecap="butt"/>
<line x1="992.5" y1="531.8" x2="1009.9" y2="531.8" stroke="#111" stroke-width="1.2" stroke-linecap="butt"/>
<line x1="992.5" y1="529.2" x2="992.5" y2="534.4" stroke="#111" stroke-width="1.2" stroke-linecap="butt"/>
<line x1="1009.9" y1="529.2" x2="1009.9" y2="534.4" stroke="#111" stroke-width="1.2" stroke-linecap="butt"/>
<line x1="1041.6" y1="532" x2="1041.6" y2="662.9" stroke="#111" stroke-width="1.2" stroke-linecap="butt"/>
<line x1="1034.6" y1="571" x2="1048.6" y2="571" stroke="#111" stroke-width="1.2" stroke-linecap="butt"/>
<line x1="1034.6" y1="568.4" x2="1034.6" y2="573.6" stroke="#111" stroke-width="1.2" stroke-linecap="butt"/>
<line x1="1048.6" y1="568.4" x2="1048.6" y2="573.6" stroke="#111" stroke-width="1.2" stroke-linecap="butt"/>
<line x1="1062.6" y1="477" x2="1062.6" y2="541.5" stroke="#111" stroke-width="1.2" stroke-linecap="butt"/>
<line x1="1055.8" y1="514.5" x2="1069.4" y2="514.5" stroke="#111" stroke-width="1.2" stroke-linecap="butt"/>
<line x1="1055.8" y1="511.9" x2="1055.8" y2="517.1" stroke="#111" stroke-width="1.2" stroke-linecap="butt"/>
<line x1="1069.4" y1="511.9" x2="1069.4" y2="517.1" stroke="#111" stroke-width="1.2" stroke-linecap="butt"/>
<line x1="993.7" y1="619" x2="993.7" y2="628" stroke="#111" stroke-width="1.2" stroke-linecap="butt"/>
<line x1="986.2" y1="623.8" x2="997.7" y2="623.8" stroke="#111" stroke-width="1.2" stroke-linecap="butt"/>
<line x1="986.2" y1="621.2" x2="986.2" y2="626.4" stroke="#111" stroke-width="1.2" stroke-linecap="butt"/>
<line x1="1118.1" y1="497" x2="1118.1" y2="527" stroke="#111" stroke-width="1.2" stroke-linecap="butt"/>
<line x1="1113.9" y1="504.5" x2="1122.3" y2="504.5" stroke="#111" stroke-width="1.2" stroke-linecap="butt"/>
<line x1="1091.4" y1="445" x2="1091.4" y2="503.3" stroke="#111" stroke-width="1.2" stroke-linecap="butt"/>
<line x1="1085.8" y1="473" x2="1097" y2="473" stroke="#111" stroke-width="1.2" stroke-linecap="butt"/>
<line x1="1085.8" y1="470.4" x2="1085.8" y2="475.6" stroke="#111" stroke-width="1.2" stroke-linecap="butt"/>
<line x1="1097" y1="470.4" x2="1097" y2="475.6" stroke="#111" stroke-width="1.2" stroke-linecap="butt"/>
<line x1="1187.2" y1="352.8" x2="1187.2" y2="367.2" stroke="#111" stroke-width="1.2" stroke-linecap="butt"/>
<line x1="1183.2" y1="359.2" x2="1191.2" y2="359.2" stroke="#111" stroke-width="1.2" stroke-linecap="butt"/>
<line x1="1152.9" y1="387.3" x2="1152.9" y2="407.6" stroke="#111" stroke-width="1.2" stroke-linecap="butt"/>
<line x1="1148.9" y1="396.3" x2="1156.9" y2="396.3" stroke="#111" stroke-width="1.2" stroke-linecap="butt"/>
<line x1="1144.1" y1="397.6" x2="1144.1" y2="419.8" stroke="#111" stroke-width="1.2" stroke-linecap="butt"/>
<line x1="1140.1" y1="406.6" x2="1148.1" y2="406.6" stroke="#111" stroke-width="1.2" stroke-linecap="butt"/>
<line x1="1184.5" y1="393" x2="1184.5" y2="409.9" stroke="#111" stroke-width="1.2" stroke-linecap="butt"/>
<line x1="1180.5" y1="400.6" x2="1188.5" y2="400.6" stroke="#111" stroke-width="1.2" stroke-linecap="butt"/>
<line x1="1138.7" y1="422" x2="1138.7" y2="470.2" stroke="#111" stroke-width="1.2" stroke-linecap="butt"/>
<line x1="1134.7" y1="438.3" x2="1142.7" y2="438.3" stroke="#111" stroke-width="1.2" stroke-linecap="butt"/>
<line x1="1140.3" y1="474.5" x2="1140.3" y2="523.4" stroke="#111" stroke-width="1.2" stroke-linecap="butt"/>
<line x1="1136.3" y1="510.8" x2="1144.3" y2="510.8" stroke="#111" stroke-width="1.2" stroke-linecap="butt"/>
<line x1="1375.2" y1="248.4" x2="1375.2" y2="259.2" stroke="#111" stroke-width="1.2" stroke-linecap="butt"/>
<line x1="1371.2" y1="253.9" x2="1379.2" y2="253.9" stroke="#111" stroke-width="1.2" stroke-linecap="butt"/>
<line x1="1334.1" y1="276" x2="1334.1" y2="287" stroke="#111" stroke-width="1.2" stroke-linecap="butt"/>
<line x1="1330.1" y1="281.7" x2="1338.1" y2="281.7" stroke="#111" stroke-width="1.2" stroke-linecap="butt"/>
<line x1="1336.1" y1="285" x2="1336.1" y2="296" stroke="#111" stroke-width="1.2" stroke-linecap="butt"/>
<line x1="1332.1" y1="290.7" x2="1340.1" y2="290.7" stroke="#111" stroke-width="1.2" stroke-linecap="butt"/>
<line x1="1372.3" y1="283" x2="1372.3" y2="294" stroke="#111" stroke-width="1.2" stroke-linecap="butt"/>
<line x1="1368.3" y1="288.6" x2="1376.3" y2="288.6" stroke="#111" stroke-width="1.2" stroke-linecap="butt"/>
<line x1="1298.2" y1="306.5" x2="1298.2" y2="315" stroke="#111" stroke-width="1.2" stroke-linecap="butt"/>
<line x1="1294.2" y1="310.7" x2="1302.2" y2="310.7" stroke="#111" stroke-width="1.2" stroke-linecap="butt"/>
<line x1="1298.2" y1="322.5" x2="1298.2" y2="335" stroke="#111" stroke-width="1.2" stroke-linecap="butt"/>
<line x1="1294.2" y1="329.3" x2="1302.2" y2="329.3" stroke="#111" stroke-width="1.2" stroke-linecap="butt"/>
<line x1="1253.8" y1="349.5" x2="1253.8" y2="361" stroke="#111" stroke-width="1.2" stroke-linecap="butt"/>
<line x1="1249.8" y1="355.7" x2="1257.8" y2="355.7" stroke="#111" stroke-width="1.2" stroke-linecap="butt"/>
<line x1="1249" y1="362" x2="1249" y2="373" stroke="#111" stroke-width="1.2" stroke-linecap="butt"/>
<line x1="1245" y1="367.7" x2="1253" y2="367.7" stroke="#111" stroke-width="1.2" stroke-linecap="butt"/>
<line x1="998.8" y1="596.3" x2="998.8" y2="662.8" stroke="#111" stroke-width="1.2" stroke-linecap="butt"/>
<line x1="989.7" y1="618" x2="1006.9" y2="618" stroke="#111" stroke-width="1.2" stroke-linecap="butt"/>
<line x1="989.7" y1="615.4" x2="989.7" y2="620.6" stroke="#111" stroke-width="1.2" stroke-linecap="butt"/>
<line x1="1006.9" y1="615.4" x2="1006.9" y2="620.6" stroke="#111" stroke-width="1.2" stroke-linecap="butt"/>
<line x1="1001.1" y1="623" x2="1001.1" y2="632" stroke="#111" stroke-width="1.2" stroke-linecap="butt"/>
<line x1="992.7" y1="627.5" x2="1009.6" y2="627.5" stroke="#111" stroke-width="1.2" stroke-linecap="butt"/>
<line x1="992.7" y1="624.9" x2="992.7" y2="630.1" stroke="#111" stroke-width="1.2" stroke-linecap="butt"/>
<line x1="1009.6" y1="624.9" x2="1009.6" y2="630.1" stroke="#111" stroke-width="1.2" stroke-linecap="butt"/>
<line x1="1001.8" y1="630" x2="1001.8" y2="676.2" stroke="#111" stroke-width="1.2" stroke-linecap="butt"/>
<line x1="993.5" y1="636.1" x2="1010.8" y2="636.1" stroke="#111" stroke-width="1.2" stroke-linecap="butt"/>
<line x1="993.5" y1="633.5" x2="993.5" y2="638.7" stroke="#111" stroke-width="1.2" stroke-linecap="butt"/>
<line x1="1010.8" y1="633.5" x2="1010.8" y2="638.7" stroke="#111" stroke-width="1.2" stroke-linecap="butt"/>
<line x1="1068.5" y1="569" x2="1068.5" y2="583.5" stroke="#111" stroke-width="1.2" stroke-linecap="butt"/>
<line x1="1062.1" y1="572.1" x2="1074.9" y2="572.1" stroke="#111" stroke-width="1.2" stroke-linecap="butt"/>
<line x1="1062.1" y1="569.5" x2="1062.1" y2="574.7" stroke="#111" stroke-width="1.2" stroke-linecap="butt"/>
<line x1="1074.9" y1="569.5" x2="1074.9" y2="574.7" stroke="#111" stroke-width="1.2" stroke-linecap="butt"/>
<line x1="1094.5" y1="548.2" x2="1094.5" y2="593.3" stroke="#111" stroke-width="1.2" stroke-linecap="butt"/>
<line x1="1089.5" y1="563.4" x2="1099.5" y2="563.4" stroke="#111" stroke-width="1.2" stroke-linecap="butt"/>
<line x1="1089.5" y1="560.8" x2="1089.5" y2="566" stroke="#111" stroke-width="1.2" stroke-linecap="butt"/>
<line x1="1099.5" y1="560.8" x2="1099.5" y2="566" stroke="#111" stroke-width="1.2" stroke-linecap="butt"/>
<line x1="1094.5" y1="572" x2="1094.5" y2="584" stroke="#111" stroke-width="1.2" stroke-linecap="butt"/>
<line x1="1089.5" y1="578.2" x2="1099.5" y2="578.2" stroke="#111" stroke-width="1.2" stroke-linecap="butt"/>
<line x1="1089.5" y1="575.6" x2="1089.5" y2="580.8" stroke="#111" stroke-width="1.2" stroke-linecap="butt"/>
<line x1="1099.5" y1="575.6" x2="1099.5" y2="580.8" stroke="#111" stroke-width="1.2" stroke-linecap="butt"/>
<line x1="1131.8" y1="484" x2="1131.8" y2="501.9" stroke="#111" stroke-width="1.2" stroke-linecap="butt"/>
<line x1="1127.3" y1="488.6" x2="1136.3" y2="488.6" stroke="#111" stroke-width="1.2" stroke-linecap="butt"/>
<line x1="1146.6" y1="502" x2="1146.6" y2="512" stroke="#111" stroke-width="1.2" stroke-linecap="butt"/>
<line x1="1142.1" y1="507.2" x2="1151.1" y2="507.2" stroke="#111" stroke-width="1.2" stroke-linecap="butt"/>
<line x1="1184.1" y1="472.8" x2="1184.1" y2="490" stroke="#111" stroke-width="1.2" stroke-linecap="butt"/>
<line x1="1179.6" y1="478" x2="1188.6" y2="478" stroke="#111" stroke-width="1.2" stroke-linecap="butt"/>
<line x1="1133.2" y1="548.8" x2="1133.2" y2="565.6" stroke="#111" stroke-width="1.2" stroke-linecap="butt"/>
<line x1="1128.7" y1="556.1" x2="1137.7" y2="556.1" stroke="#111" stroke-width="1.2" stroke-linecap="butt"/>
<line x1="1407.2" y1="271" x2="1407.2" y2="280" stroke="#111" stroke-width="1.2" stroke-linecap="butt"/>
<line x1="1402.7" y1="275.5" x2="1411.7" y2="275.5" stroke="#111" stroke-width="1.2" stroke-linecap="butt"/>
<line x1="1410.1" y1="279" x2="1410.1" y2="290.7" stroke="#111" stroke-width="1.2" stroke-linecap="butt"/>
<line x1="1405.6" y1="283.9" x2="1414.6" y2="283.9" stroke="#111" stroke-width="1.2" stroke-linecap="butt"/>
<line x1="1376.1" y1="308" x2="1376.1" y2="316" stroke="#111" stroke-width="1.2" stroke-linecap="butt"/>
<line x1="1372.1" y1="312.2" x2="1380.1" y2="312.2" stroke="#111" stroke-width="1.2" stroke-linecap="butt"/>
<line x1="1333.8" y1="330" x2="1333.8" y2="338" stroke="#111" stroke-width="1.2" stroke-linecap="butt"/>
<line x1="1329.8" y1="333.9" x2="1337.8" y2="333.9" stroke="#111" stroke-width="1.2" stroke-linecap="butt"/>
<line x1="1336" y1="337" x2="1336" y2="345" stroke="#111" stroke-width="1.2" stroke-linecap="butt"/>
<line x1="1332" y1="341.3" x2="1340" y2="341.3" stroke="#111" stroke-width="1.2" stroke-linecap="butt"/>
<line x1="1299.6" y1="365" x2="1299.6" y2="373" stroke="#111" stroke-width="1.2" stroke-linecap="butt"/>
<line x1="1295.6" y1="369.4" x2="1303.6" y2="369.4" stroke="#111" stroke-width="1.2" stroke-linecap="butt"/>
<line x1="1252.7" y1="400" x2="1252.7" y2="408" stroke="#111" stroke-width="1.2" stroke-linecap="butt"/>
<line x1="1248.7" y1="404" x2="1256.7" y2="404" stroke="#111" stroke-width="1.2" stroke-linecap="butt"/>
<line x1="1251.4" y1="424" x2="1251.4" y2="433" stroke="#111" stroke-width="1.2" stroke-linecap="butt"/>
<line x1="1247.4" y1="428.7" x2="1255.4" y2="428.7" stroke="#111" stroke-width="1.2" stroke-linecap="butt"/>
<circle cx="1005.9" cy="514.8" r="4.1" fill="none" stroke="#000" stroke-width="1.3"/>
<circle cx="1001.2" cy="531.8" r="4.1" fill="none" stroke="#000" stroke-width="1.3"/>
<circle cx="1041.6" cy="571" r="4.1" fill="none" stroke="#000" stroke-width="1.3"/>
<circle cx="1062.6" cy="514.5" r="4.1" fill="none" stroke="#000" stroke-width="1.3"/>
<circle cx="993.7" cy="623.8" r="4.1" fill="none" stroke="#000" stroke-width="1.3"/>
<circle cx="1118.1" cy="504.5" r="4.1" fill="none" stroke="#000" stroke-width="1.3"/>
<circle cx="1091.4" cy="473" r="4.1" fill="none" stroke="#000" stroke-width="1.3"/>
<circle cx="1187.2" cy="359.2" r="4.1" fill="none" stroke="#000" stroke-width="1.3"/>
<circle cx="1152.9" cy="396.3" r="4.1" fill="none" stroke="#000" stroke-width="1.3"/>
<circle cx="1144.1" cy="406.6" r="4.1" fill="none" stroke="#000" stroke-width="1.3"/>
<circle cx="1184.5" cy="400.6" r="4.1" fill="none" stroke="#000" stroke-width="1.3"/>
<circle cx="1138.7" cy="438.3" r="4.1" fill="none" stroke="#000" stroke-width="1.3"/>
<circle cx="1140.3" cy="510.8" r="4.1" fill="none" stroke="#000" stroke-width="1.3"/>
<circle cx="1375.2" cy="253.9" r="4.1" fill="none" stroke="#000" stroke-width="1.3"/>
<circle cx="1334.1" cy="281.7" r="4.1" fill="none" stroke="#000" stroke-width="1.3"/>
<circle cx="1336.1" cy="290.7" r="4.1" fill="none" stroke="#000" stroke-width="1.3"/>
<circle cx="1372.3" cy="288.6" r="4.1" fill="none" stroke="#000" stroke-width="1.3"/>
<circle cx="1298.2" cy="310.7" r="4.1" fill="none" stroke="#000" stroke-width="1.3"/>
<circle cx="1298.2" cy="329.3" r="4.1" fill="none" stroke="#000" stroke-width="1.3"/>
<circle cx="1253.8" cy="355.7" r="4.1" fill="none" stroke="#000" stroke-width="1.3"/>
<circle cx="1249" cy="367.7" r="4.1" fill="none" stroke="#000" stroke-width="1.3"/>
<circle cx="998.8" cy="618" r="4.2" fill="#000"/>
<circle cx="1001.1" cy="627.5" r="4.2" fill="#000"/>
<circle cx="1001.8" cy="636.1" r="4.2" fill="#000"/>
<circle cx="1068.5" cy="572.1" r="4.2" fill="#000"/>
<circle cx="1094.5" cy="563.4" r="4.2" fill="#000"/>
<circle cx="1094.5" cy="578.2" r="4.2" fill="#000"/>
<circle cx="1131.8" cy="488.6" r="4.2" fill="#000"/>
<circle cx="1146.6" cy="507.2" r="4.2" fill="#000"/>
<circle cx="1184.1" cy="478" r="4.2" fill="#000"/>
<circle cx="1133.2" cy="556.1" r="4.2" fill="#000"/>
<circle cx="1407.2" cy="275.5" r="4.2" fill="#000"/>
<circle cx="1410.1" cy="283.9" r="4.2" fill="#000"/>
<circle cx="1376.1" cy="312.2" r="4.2" fill="#000"/>
<circle cx="1333.8" cy="333.9" r="4.2" fill="#000"/>
<circle cx="1336" cy="341.3" r="4.2" fill="#000"/>
<circle cx="1299.6" cy="369.4" r="4.2" fill="#000"/>
<circle cx="1252.7" cy="404" r="4.2" fill="#000"/>
<circle cx="1251.4" cy="428.7" r="4.2" fill="#000"/>
<circle cx="994" cy="573" r="0.7" fill="#333"/>
</g>
<line x1="545.3" y1="5.3" x2="848.15" y2="5.3" stroke="#000" stroke-width="3.5" stroke-dasharray="10.4 3.95" stroke-dashoffset="0"/>
<line x1="545.3" y1="3.55" x2="545.3" y2="738.75" stroke="#000" stroke-width="3.5" stroke-dasharray="10.4 3.95" stroke-dashoffset="7.65"/>
<line x1="545.3" y1="737" x2="848.15" y2="737" stroke="#000" stroke-width="3.5" stroke-dasharray="10.4 3.95" stroke-dashoffset="9.65"/>
<line x1="846.4" y1="5.3" x2="846.4" y2="738.75" stroke="#000" stroke-width="3.5" stroke-dasharray="10.4 3.95" stroke-dashoffset="0.35"/>
<rect x="543.55" y="3.55" width="3.5" height="3.5" fill="#000"/>
<rect x="844.65" y="735.25" width="3.5" height="3.5" fill="#000"/>
<line x1="153.5" y1="597.2" x2="278.55" y2="597.2" stroke="#000" stroke-width="3.5" stroke-dasharray="10.4 3.95" stroke-dashoffset="0"/>
<line x1="153.5" y1="595.45" x2="153.5" y2="738.75" stroke="#000" stroke-width="3.5" stroke-dasharray="10.4 3.95" stroke-dashoffset="13.7"/>
<line x1="153.5" y1="737" x2="278.55" y2="737" stroke="#000" stroke-width="3.5" stroke-dasharray="10.4 3.95" stroke-dashoffset="11.7"/>
<line x1="276.8" y1="597.2" x2="276.8" y2="738.75" stroke="#000" stroke-width="3.5" stroke-dasharray="10.4 3.95" stroke-dashoffset="8.4"/>
<rect x="151.75" y="595.45" width="3.5" height="3.5" fill="#000"/>
<rect x="275.05" y="735.25" width="3.5" height="3.5" fill="#000"/>
</g></svg></body></html>
